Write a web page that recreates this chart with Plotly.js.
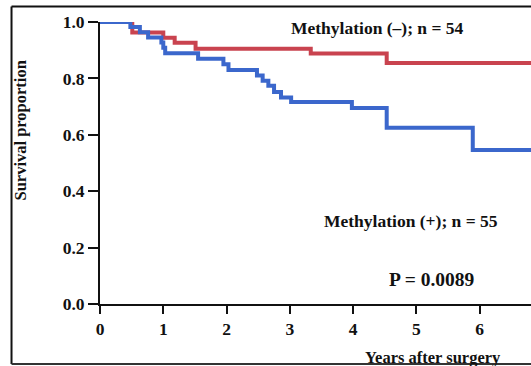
<!DOCTYPE html>
<html>
<head>
<meta charset="utf-8">
<script src="https://cdn.plot.ly/plotly-3.0.1.min.js"></script>
<style>html,body{margin:0;padding:0;background:#fff;}#chart{width:531px;height:366px;}</style>
</head>
<body>
<div id="chart"></div>
<script>
// Kaplan-Meier step points
const negTimes = [0, 0.51, 1.0, 1.18, 1.51, 3.33, 4.53, 6.81];
const negSurv  = [1.0, 0.963, 0.944, 0.926, 0.905, 0.888, 0.855, 0.855];
const posTimes = [0, 0.48, 0.63, 0.76, 0.97, 1.0, 1.03, 1.55, 1.95, 2.03, 2.48, 2.57, 2.66, 2.75, 2.86, 3.02, 3.98, 4.53, 5.89, 6.81];
const posSurv  = [1.0, 0.982, 0.964, 0.945, 0.927, 0.909, 0.889, 0.870, 0.850, 0.830, 0.810, 0.792, 0.774, 0.752, 0.732, 0.716, 0.695, 0.625, 0.546, 0.546];
const negLabel = 'Methylation (\u2013); n = 54';
const posLabel = 'Methylation (+); n = 55';
const pLabel = 'P = 0.0089';
const xTitle = 'Years after surgery';
const yTitle = 'Survival proportion';
const xTicks = [0, 1, 2, 3, 4, 5, 6];
const yTicks = [0, 0.2, 0.4, 0.6, 0.8, 1.0];

const serif = 'Liberation Serif, Times New Roman, serif';
const traces = [
  {x: negTimes, y: negSurv, mode: 'lines', line: {shape: 'hv', color: '#c9434f', width: 4}, cliponaxis: false, name: negLabel, showlegend: false},
  {x: posTimes, y: posSurv, mode: 'lines', line: {shape: 'hv', color: '#3b67cc', width: 4}, cliponaxis: false, name: posLabel, showlegend: false}
];
const layout = {
  width: 531, height: 366,
  margin: {l: 100, r: 0, t: 21.5, b: 62, pad: 0},
  paper_bgcolor: '#fff', plot_bgcolor: '#fff',
  xaxis: {range: [0, 6.81], tickvals: xTicks, ticktext: xTicks.map(String), ticks: 'outside', ticklen: 8, tickwidth: 2, tickcolor: '#111',
          showline: true, linecolor: '#111', linewidth: 2, showgrid: false, zeroline: false,
          tickfont: {family: serif, size: 17.5, color: '#111', weight: 'bold'}},
  yaxis: {range: [0, 1], tickvals: yTicks, ticktext: yTicks.map(v => v.toFixed(1)), ticks: 'outside', ticklen: 10, tickwidth: 2, tickcolor: '#111',
          showline: true, linecolor: '#111', linewidth: 2, showgrid: false, zeroline: false,
          tickfont: {family: serif, size: 17.5, color: '#111', weight: 'bold'}},
  annotations: [
    {text: '<b>' + negLabel + '</b>', x: 4.39, y: 0.977, xref: 'x', yref: 'y', xanchor: 'center', yanchor: 'middle', showarrow: false, font: {family: serif, size: 17.5, color: '#111'}},
    {text: '<b>' + posLabel + '</b>', x: 4.91, y: 0.295, xref: 'x', yref: 'y', xanchor: 'center', yanchor: 'middle', showarrow: false, font: {family: serif, size: 17.5, color: '#111'}},
    {text: '<b>' + pLabel + '</b>', x: 5.24, y: 0.087, xref: 'x', yref: 'y', xanchor: 'center', yanchor: 'middle', showarrow: false, font: {family: serif, size: 19.5, color: '#111'}},
    {text: '<b>' + xTitle + '</b>', x: 5.26, y: -0.188, xref: 'x', yref: 'paper', xanchor: 'center', yanchor: 'middle', showarrow: false, font: {family: serif, size: 16.5, color: '#111'}},
    {text: '<b>' + yTitle + '</b>', x: -0.184, y: 0.614, xref: 'paper', yref: 'paper', xanchor: 'center', yanchor: 'middle', textangle: -90, showarrow: false, font: {family: serif, size: 16.5, color: '#111'}}
  ],
  shapes: [
    {type: 'line', xref: 'paper', yref: 'paper', x0: -0.2053, x1: 1.05, y0: 1.0549, y1: 1.0549, line: {color: '#111', width: 2}},
    {type: 'line', xref: 'paper', yref: 'paper', x0: -0.2053, x1: -0.2053, y0: 1.0549, y1: -0.2124, line: {color: '#111', width: 2}},
    {type: 'line', xref: 'paper', yref: 'paper', x0: -0.2053, x1: 1.05, y0: -0.2124, y1: -0.2124, line: {color: '#333', width: 2}}
  ]
};
Plotly.newPlot('chart', traces, layout, {displayModeBar: false, staticPlot: true});
</script>
</body>
</html>
